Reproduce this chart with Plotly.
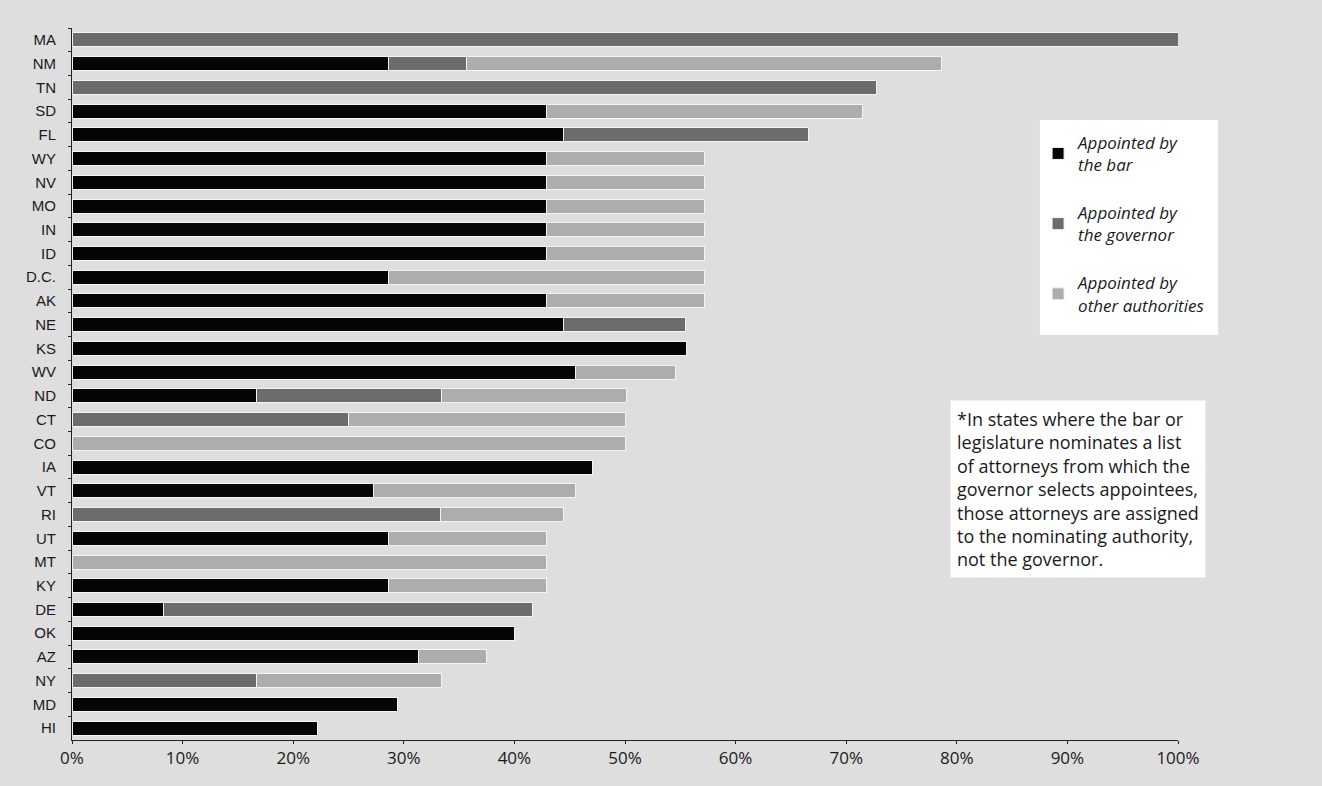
import plotly.graph_objects as go

# States, top to bottom
states = ["MA", "NM", "TN", "SD", "FL", "WY", "NV", "MO", "IN", "ID", "D.C.", "AK",
          "NE", "KS", "WV", "ND", "CT", "CO", "IA", "VT", "RI", "UT", "MT", "KY",
          "DE", "OK", "AZ", "NY", "MD", "HI"]

# Share of members (percent) by appointing authority
by_bar = [0, 28.6, 0, 42.9, 44.4, 42.9, 42.9, 42.9, 42.9, 42.9, 28.6, 42.9,
          44.4, 55.6, 45.5, 16.7, 0, 0, 47.1, 27.3, 0, 28.6, 0, 28.6,
          8.3, 40.0, 31.3, 0, 29.4, 22.2]
by_governor = [100, 7.1, 72.7, 0, 22.2, 0, 0, 0, 0, 0, 0, 0,
               11.1, 0, 0, 16.7, 25.0, 0, 0, 0, 33.3, 0, 0, 0,
               33.3, 0, 0, 16.7, 0, 0]
by_other = [0, 42.9, 0, 28.6, 0, 14.3, 14.3, 14.3, 14.3, 14.3, 28.6, 14.3,
            0, 0, 9.1, 16.7, 25.0, 50.0, 0, 18.2, 11.1, 14.3, 42.9, 14.3,
            0, 0, 6.2, 16.7, 0, 0]

series = [
    ("<i>Appointed by<br>the bar</i>", by_bar, "#050505"),
    ("<i>Appointed by<br>the governor</i>", by_governor, "#6c6c6c"),
    ("<i>Appointed by<br>other authorities</i>", by_other, "#adadad"),
]

bg = "#dedede"
text_font = "Open Sans, sans-serif"

fig = go.Figure()
for i, (name, vals, col) in enumerate(series):
    fig.add_trace(go.Bar(
        y=states, x=vals, name=name, orientation="h",
        marker=dict(color=col, line=dict(color="#f4f4f4", width=1)),
        legendgroup=f"g{i}",
    ))

fig.update_layout(
    barmode="stack",
    bargap=0.41,
    width=1322, height=786,
    margin=dict(l=72, r=144, t=28, b=46),
    paper_bgcolor=bg, plot_bgcolor=bg,
    font=dict(family="Liberation Sans, Arial, sans-serif", color="#111111"),
    showlegend=True,
    legend=dict(
        x=0.8735, y=0.864, xanchor="left", yanchor="top",
        bgcolor="rgba(0,0,0,0)", borderwidth=0,
        traceorder="grouped", tracegroupgap=23,
        font=dict(family=text_font, size=17, color="#1a1a1a"),
        itemclick=False,
    ),
    xaxis=dict(
        range=[0, 100], dtick=10, ticksuffix="%",
        showgrid=False, zeroline=False,
        showline=True, linecolor="#222222", linewidth=1,
        ticks="outside", ticklen=3, tickcolor="#222222",
        tickfont=dict(family=text_font, size=17, color="#1a1a1a"),
    ),
    yaxis=dict(
        autorange="reversed", type="category",
        showgrid=False, zeroline=False,
        showline=True, linecolor="#222222", linewidth=1,
        ticks="outside", ticklen=3, tickcolor="#222222",
        tickson="boundaries", ticklabelstandoff=12,
        tickfont=dict(family="Liberation Sans, Arial, sans-serif", size=15, color="#1a1a1a"),
    ),
)

# White panel behind the legend
fig.add_shape(
    type="rect", xref="paper", yref="paper", layer="above",
    x0=0.8752, x1=1.0362, y0=0.5688, y1=0.8708,
    fillcolor="white", line=dict(width=0),
)

note = ("*In states where the bar or<br>legislature nominates a list<br>"
        "of attorneys from which the<br>governor selects appointees,<br>"
        "those attorneys are assigned<br>to the nominating authority,<br>"
        "not the governor.")
fig.add_annotation(
    text=note, xref="paper", yref="paper", x=0.794, y=0.478,
    xanchor="left", yanchor="top", align="left", showarrow=False,
    bgcolor="white", borderpad=6,
    font=dict(family=text_font, size=18, color="#1a1a1a"),
)

fig.write_html("out.html")
